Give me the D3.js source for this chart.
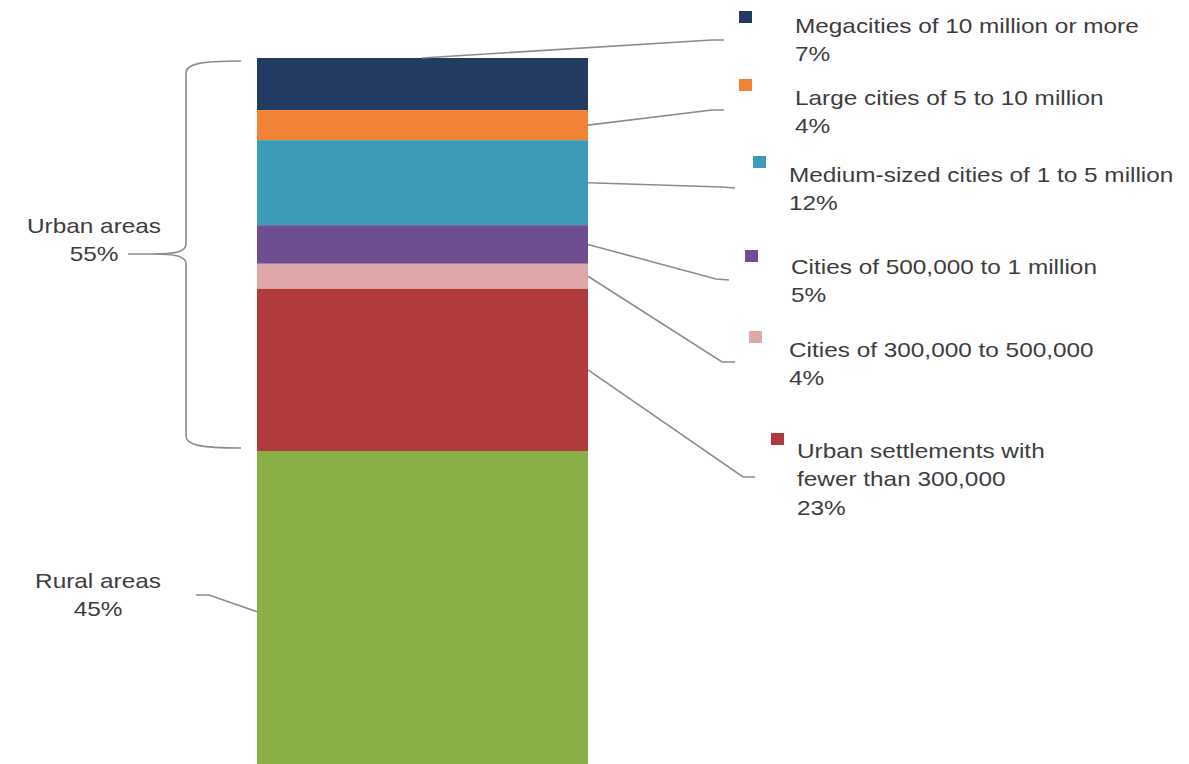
<!DOCTYPE html>
<html lang="en">

<head>
    <meta charset="UTF-8">
    <title>Urban and rural population by settlement size</title>
    <style>
        body {
            margin: 0;
            background: #fff;
        }

        .label {
            font-family: "Liberation Sans", Arial, sans-serif;
            font-size: 21px;
            fill: #3d3d3d;
        }

        .leader {
            fill: none;
            stroke: #8c8c8c;
            stroke-width: 1.6;
        }
    </style>
</head>

<body>
    <svg id="chart" width="1189" height="764"></svg>

    <script src="https://cdn.jsdelivr.net/npm/d3@7"></script>
    <script>
        // Urban segments, top to bottom, then rural
        const categories = [
            "Megacities of 10 million or more",
            "Large cities of 5 to 10 million",
            "Medium-sized cities of 1 to 5 million",
            "Cities of 500,000 to 1 million",
            "Cities of 300,000 to 500,000",
            "Urban settlements with fewer than 300,000",
            "Rural areas"
        ];
        const shares = [7.3, 4.2, 11.9, 5.4, 3.5, 22.7, 45];
        const shareLabels = ["7%", "4%", "12%", "5%", "4%", "23%", "45%"];
        const urbanLabel = ["Urban areas", "55%"];
        const colors = ["#233a62", "#f18236", "#3e9bb8", "#6e4e8e", "#dfa8a8", "#b03a3c", "#8baf47"];

        // text lines for callouts (category wrapped where the original wraps)
        const calloutLines = [
            ["Megacities of 10 million or more"],
            ["Large cities of 5 to 10 million"],
            ["Medium-sized cities of 1 to 5 million"],
            ["Cities of 500,000 to 1 million"],
            ["Cities of 300,000 to 500,000"],
            ["Urban settlements with", "fewer than 300,000"],
            ["Rural areas"]
        ];

        // callout layout: square, text origin, elbow of the leader line
        const layout = [
            { sq: [739, 11], tx: [795, 33], bend: [712, 40], end: [724, 40], from: "top" },
            { sq: [739, 79], tx: [795, 105], bend: [712, 110], end: [724, 110] },
            { sq: [753, 156], tx: [789, 182], bend: [722, 187], end: [735, 188] },
            { sq: [745, 250], tx: [791, 274], bend: [716, 279], end: [729, 280] },
            { sq: [749, 331], tx: [789, 357], bend: [722, 362], end: [735, 362] },
            { sq: [771, 433], tx: [797, 458], bend: [743, 477], end: [755, 477] }
        ];

        const svg = d3.select("#chart");
        const sx = 1.16; // the original picture is stretched horizontally

        const barX = 257,
            barW = 331;
        const y = d3.scaleLinear().domain([0, 100]).range([58, 772.5]);

        const stacked = [];
        let acc = 0;
        shares.forEach((v, i) => {
            stacked.push({ i, y0: acc, y1: acc + v });
            acc += v;
        });

        svg.append("g").selectAll("rect")
            .data(stacked)
            .enter().append("rect")
            .attr("x", barX)
            .attr("width", barW)
            .attr("y", d => y(d.y0))
            .attr("height", d => y(d.y1) - y(d.y0))
            .attr("fill", d => colors[d.i]);

        function addText(x, yy, lines, anchor) {
            const g = svg.append("g")
                .attr("transform", `translate(${x},${yy}) scale(${sx},1)`);
            const t = g.append("text")
                .attr("class", "label")
                .attr("text-anchor", anchor || "start");
            lines.forEach((s, k) => {
                t.append("tspan").attr("x", 0).attr("dy", k === 0 ? 0 : 28.5).text(s);
            });
        }

        const line = d3.line();

        // right side callouts for the urban segments
        layout.forEach((L, i) => {
            const seg = stacked[i];
            const start = L.from === "top" ?
                [barX + 165, y(seg.y0)] :
                [barX + barW, y((seg.y0 + seg.y1) / 2)];
            svg.append("path")
                .attr("class", "leader")
                .attr("d", line([start, L.bend, L.end]));

            svg.append("rect")
                .attr("x", L.sq[0])
                .attr("y", L.sq[1])
                .attr("width", 13)
                .attr("height", 12)
                .attr("fill", colors[i]);

            addText(L.tx[0], L.tx[1], calloutLines[i].concat([shareLabels[i]]));
        });

        // rural label on the left
        const rural = stacked[6];
        svg.append("path")
            .attr("class", "leader")
            .attr("d", line([
                [barX, y((rural.y0 + rural.y1) / 2)],
                [209, 595],
                [196, 595]
            ]));
        addText(98, 588, [calloutLines[6][0], shareLabels[6]], "middle");

        // curly brace spanning the urban part
        const braceTop = y(0) + 3,
            braceBot = y(rural.y0) - 3,
            mid = 254,
            bx = 186;
        const brace = d3.path();
        brace.moveTo(241, braceTop);
        brace.bezierCurveTo(200, braceTop, bx, braceTop + 3, bx, braceTop + 12);
        brace.lineTo(bx, mid - 10);
        brace.bezierCurveTo(bx, mid - 2, 176, mid, 150, mid);
        brace.lineTo(128, mid);
        brace.moveTo(150, mid);
        brace.bezierCurveTo(176, mid, bx, mid + 2, bx, mid + 10);
        brace.lineTo(bx, braceBot - 12);
        brace.bezierCurveTo(bx, braceBot - 3, 200, braceBot, 241, braceBot);
        svg.append("path")
            .attr("class", "leader")
            .attr("d", brace.toString());

        addText(94, 233, urbanLabel, "middle");
    </script>
</body>

</html>
